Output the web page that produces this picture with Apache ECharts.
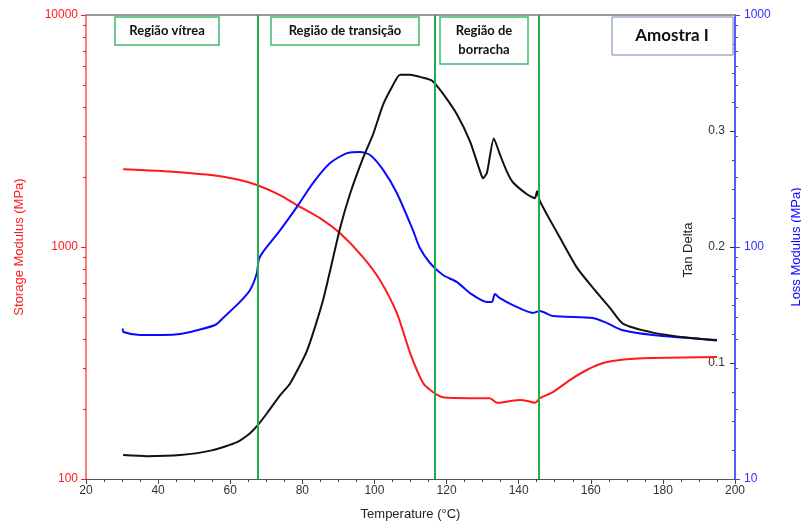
<!DOCTYPE html>
<html>
<head>
<meta charset="utf-8">
<script src="https://cdn.jsdelivr.net/npm/echarts@6/dist/echarts.min.js"></script>
<style>html,body{margin:0;padding:0;background:#fff}#c{width:801px;height:525px}</style>
</head>
<body>
<div id="c"></div>
<script>
// ---- data ----
const storageT = [30.3, 40, 50, 55.2, 62.7, 67.4, 73.8, 78.5, 84.9, 90.4, 96.8, 101.5, 106.2, 109.9, 113.5, 116.2, 119, 126.5, 132, 134, 137, 140.4, 143, 144.5, 145.9, 149.5, 154.2, 158.9, 163.4, 168.1, 177.2, 195];
const storageVal = [2165, 2130, 2075, 2040, 1945, 1850, 1675, 1517, 1333, 1148, 905, 721, 520, 349, 259, 237, 225, 223, 223, 213, 216, 219, 216, 213, 223, 237, 267, 295, 316, 326, 332, 336];

const lossT = [30.2, 30.4, 35, 41.4, 46.1, 50.8, 55.8, 58, 62.7, 65.5, 67.4, 67.9, 69.1, 73.8, 78.5, 83, 87.7, 92.4, 96, 98.8, 102.4, 106.2, 110.7, 112.6, 115.4, 119, 122.9, 126.5, 131.2, 132.6, 133.4, 134.8, 138.4, 144, 145.9, 149.5, 160.6, 164.5, 168.9, 177.2, 195];
const lossVal = [44.5, 43.0, 41.8, 41.8, 42.2, 43.8, 46.1, 49.4, 58, 65.3, 77.3, 88, 95.3, 118, 149, 189, 230, 254, 257, 249, 215, 171, 118, 99, 85.3, 75.7, 70.6, 63.3, 58, 58, 62.7, 60.2, 56.2, 52, 53, 50.4, 49.4, 47, 43.8, 41.8, 39.7];

const tanT = [30.3, 36.9, 46.1, 55.2, 61.9, 65.5, 67.4, 70.2, 73.8, 76.6, 81.3, 85.7, 90.4, 93.2, 96.8, 99.6, 102.4, 104.9, 107.1, 109.9, 113.5, 116, 119, 122.9, 126.5, 129.3, 130.1, 131.2, 133.1, 134.8, 136.7, 138.4, 142.3, 144.5, 145.1, 145.9, 147.8, 151.5, 156.2, 160.6, 165.3, 168.9, 177.2, 186.7, 195];
const tanVal = [0.0206, 0.0197, 0.0206, 0.0249, 0.0318, 0.0395, 0.0455, 0.0567, 0.0721, 0.0824, 0.1107, 0.1536, 0.2155, 0.2455, 0.2764, 0.297, 0.3227, 0.3382, 0.3485, 0.3485, 0.3459, 0.3433, 0.3322, 0.3142, 0.291, 0.2652, 0.2592, 0.2640, 0.2936, 0.2798, 0.2652, 0.2558, 0.2455, 0.2421, 0.2481, 0.2395, 0.2283, 0.2077, 0.182, 0.1648, 0.1476, 0.1339, 0.1262, 0.1219, 0.1193];

const regionBounds = [67.7, 116.7, 145.7];
const xTicks = [20, 40, 60, 80, 100, 120, 140, 160, 180, 200];
const storageTicks = [100, 1000, 10000];
const lossTicks = [10, 100, 1000];
const tanTicks = [0.1, 0.2, 0.3];
const regionLabels = ['Região vítrea', 'Região de transição', 'Região de\nborracha'];
const sampleLabel = 'Amostra I';

function zip(a, b) { return a.map((v, i) => [v, b[i]]); }
function logMinors(lo, hi) {
  const out = [];
  for (let d = lo; d < hi; d *= 10) for (let k = 2; k <= 9; k++) out.push(d * k);
  return out;
}
const plain = v => String(v);

const chart = echarts.init(document.getElementById('c'), null, { renderer: 'canvas' });
const FONT = 'Liberation Sans, Arial, sans-serif';
const red = '#ff1a1a', blue = '#0a0aff', black = '#111111', green = '#1fae4b';

const option = {
  animation: false,
  backgroundColor: '#fff',
  grid: { left: 86, right: 66, top: 15, bottom: 46, containLabel: false, outerBoundsMode: 'none' },
  xAxis: [
    {
      type: 'value', min: 20, max: 200, interval: 20,
      name: 'Temperature (°C)', nameLocation: 'middle', nameGap: 29,
      nameTextStyle: { color: '#222', fontSize: 13, fontFamily: FONT },
      axisLine: { show: true, lineStyle: { color: '#555', width: 1 } },
      axisTick: { show: true, length: 5, lineStyle: { color: '#444' } },
      minorTick: { show: true, splitNumber: 4, length: 3, lineStyle: { color: '#444' } },
      axisLabel: { color: '#333', fontSize: 12, fontFamily: FONT, margin: 6, formatter: plain,
        customValues: xTicks },
      splitLine: { show: false }
    },
    {
      type: 'value', min: 20, max: 200, position: 'top',
      axisLine: { show: true, lineStyle: { color: '#9a9a9a', width: 2 } },
      axisTick: { show: false }, axisLabel: { show: false }, splitLine: { show: false }
    }
  ],
  yAxis: [
    {
      type: 'log', logBase: 10, min: 100, max: 10000, position: 'left',
      name: 'Storage Modulus (MPa)', nameLocation: 'middle', nameGap: 60,
      nameTextStyle: { color: red, fontSize: 13, fontFamily: FONT },
      axisLine: { show: true, lineStyle: { color: '#ff5050', width: 1.5 } },
      axisTick: { show: true, length: 5, lineStyle: { color: red }, customValues: storageTicks },
      axisLabel: { color: red, fontSize: 12, fontFamily: FONT, margin: 8, formatter: plain, customValues: storageTicks },
      splitLine: { show: false }
    },
    {
      type: 'log', logBase: 10, min: 10, max: 1000, position: 'right',
      name: 'Loss Modulus (MPa)', nameLocation: 'middle', nameGap: 55,
      nameTextStyle: { color: blue, fontSize: 13, fontFamily: FONT },
      axisLine: { show: true, lineStyle: { color: '#5a5aff', width: 2 } },
      axisTick: { show: true, length: 5, lineStyle: { color: '#4040ff' }, customValues: lossTicks },
      axisLabel: { color: '#3030ff', fontSize: 12, fontFamily: FONT, margin: 9, formatter: plain, customValues: lossTicks },
      splitLine: { show: false }
    },
    {
      type: 'value', min: 0, max: 0.4, interval: 0.1, position: 'right',
      axisLine: { show: false },
      axisTick: { show: true, inside: true, length: 5, lineStyle: { color: '#333' }, customValues: tanTicks },
      minorTick: { show: true, splitNumber: 4, length: 3, lineStyle: { color: '#555' } },
      axisLabel: { inside: true, color: '#333', fontSize: 12, fontFamily: FONT, margin: 10, formatter: plain, customValues: tanTicks },
      splitLine: { show: false }
    },
    {
      type: 'log', logBase: 10, min: 100, max: 10000, position: 'left',
      axisLine: { show: false },
      axisTick: { show: true, length: 3, lineStyle: { color: red }, customValues: logMinors(100, 10000) },
      axisLabel: { show: false }, splitLine: { show: false }
    },
    {
      type: 'log', logBase: 10, min: 10, max: 1000, position: 'right',
      axisLine: { show: false },
      axisTick: { show: true, length: 3, lineStyle: { color: '#4040ff' }, customValues: logMinors(10, 1000) },
      axisLabel: { show: false }, splitLine: { show: false }
    }
  ],
  series: [
    {
      name: 'Storage Modulus', type: 'line', xAxisIndex: 0, yAxisIndex: 0,
      data: zip(storageT, storageVal), showSymbol: false, smooth: 0.25,
      lineStyle: { color: red, width: 2 }, z: 3
    },
    {
      name: 'Loss Modulus', type: 'line', xAxisIndex: 0, yAxisIndex: 1,
      data: zip(lossT, lossVal), showSymbol: false, smooth: 0.25,
      lineStyle: { color: blue, width: 2 }, z: 3
    },
    {
      name: 'Tan Delta', type: 'line', xAxisIndex: 0, yAxisIndex: 2,
      data: zip(tanT, tanVal), showSymbol: false, smooth: 0.2,
      lineStyle: { color: black, width: 2 }, z: 3,
      markLine: {
        silent: true, symbol: ['none', 'none'], animation: false,
        label: { show: false },
        lineStyle: { color: green, width: 2, type: 'solid' },
        data: regionBounds.map(v => ({ xAxis: v }))
      }
    }
  ],
  graphic: [
    { type: 'text', x: 688, y: 250, rotation: Math.PI / 2,
      style: { text: 'Tan Delta', font: '13px "Liberation Sans", Arial, sans-serif', fill: '#222', align: 'center', verticalAlign: 'middle' }, z: 11 },
    { type: 'rect', shape: { x: 115, y: 17, width: 104, height: 28 },
      style: { fill: '#fff', stroke: '#3dbb6a', lineWidth: 1.5 }, z: 10 },
    { type: 'text', x: 167, y: 31, style: { text: regionLabels[0], font: 'bold 13px Lato, "Open Sans", sans-serif', fill: '#111', align: 'center', verticalAlign: 'middle' }, z: 11 },
    { type: 'rect', shape: { x: 271, y: 17, width: 148, height: 28 },
      style: { fill: '#fff', stroke: '#3dbb6a', lineWidth: 1.5 }, z: 10 },
    { type: 'text', x: 345, y: 31, style: { text: regionLabels[1], font: 'bold 13px Lato, "Open Sans", sans-serif', fill: '#111', align: 'center', verticalAlign: 'middle' }, z: 11 },
    { type: 'rect', shape: { x: 440, y: 17, width: 88, height: 47 },
      style: { fill: '#fff', stroke: '#3dbb6a', lineWidth: 1.5 }, z: 10 },
    { type: 'text', x: 484, y: 40, style: { text: regionLabels[2], font: 'bold 13px Lato, "Open Sans", sans-serif', lineHeight: 19, fill: '#111', align: 'center', verticalAlign: 'middle' }, z: 11 },
    { type: 'rect', shape: { x: 612, y: 17, width: 121, height: 38 },
      style: { fill: '#fff', stroke: '#6f84b0', lineWidth: 1 }, z: 10 },
    { type: 'text', x: 672, y: 36, style: { text: sampleLabel, font: 'bold 17px Lato, "Open Sans", sans-serif', fill: '#111', align: 'center', verticalAlign: 'middle' }, z: 11 }
  ]
};
chart.setOption(option);
</script>
</body>
</html>
